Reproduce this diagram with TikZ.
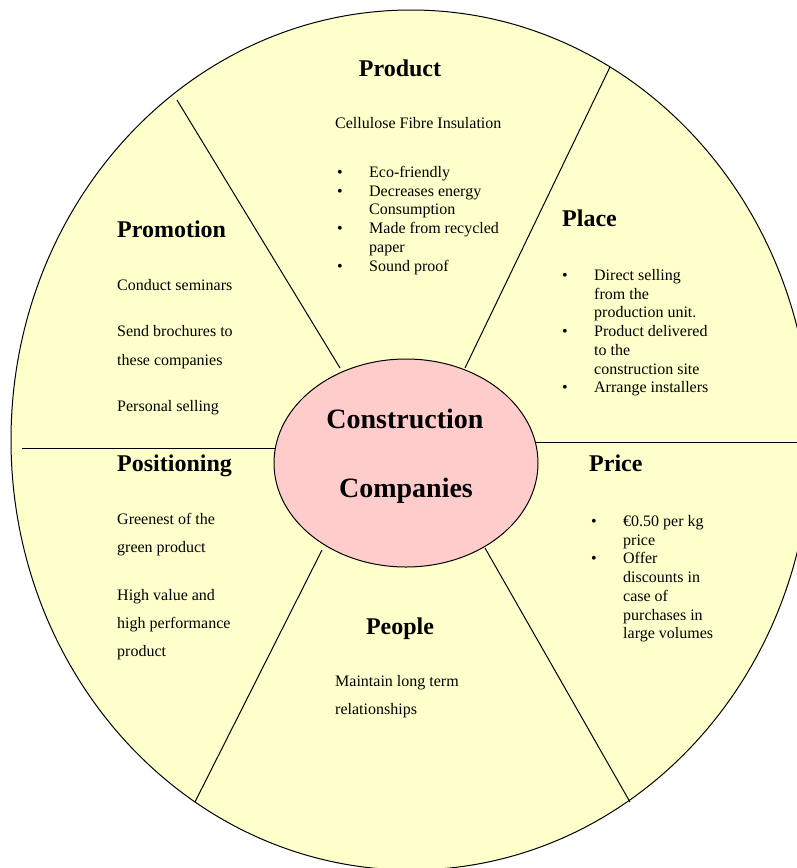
\documentclass[tikz,border=0pt]{standalone}
\usepackage{fontspec}
\setmainfont{Liberation Serif}
\usetikzlibrary{shapes.geometric}
\definecolor{wheelyellow}{HTML}{FFFFCC}
\definecolor{hubpink}{HTML}{FFCCCC}
\newcommand\bitem[1]{\hangindent=32pt\hangafter=1\noindent\makebox[32pt][l]{\textbullet}#1\par}
\newcommand\blk[2]{\parbox[t]{#1}{\raggedright #2}}
\tikzset{
  divider/.style={draw=black, line width=1pt},
  headtxt/.style={anchor=base west, inner sep=0pt, font=\fontsize{24}{28}\selectfont\bfseries},
  bodytxt/.style={anchor=base west, inner sep=0pt, font=\fontsize{16}{18.7}\selectfont},
  widetxt/.style={anchor=base west, inner sep=0pt, font=\fontsize{16}{28.3}\selectfont},
  hubtxt/.style={anchor=base, inner sep=0pt, font=\fontsize{28}{34}\selectfont\bfseries},
}
\begin{document}
\begin{tikzpicture}[x=1pt,y=-1pt]
\useasboundingbox (0,0) rectangle (797,868);
% outer wheel
\node (wheel) [ellipse, draw=black, line width=1pt, fill=wheelyellow, inner sep=0pt,
  minimum width=800pt, minimum height=860pt] at (411,440) {};
% divider end points
\coordinate (ulIn) at (340,368);  \coordinate (ulOut) at (177,100);
\coordinate (urIn) at (465,368);  \coordinate (urOut) at (610,67);
\coordinate (llIn) at (322,550);  \coordinate (llOut) at (195,802);
\coordinate (lrIn) at (485,548);  \coordinate (lrOut) at (630,802);
\coordinate (hlOut) at (22,448);  \coordinate (hlIn) at (290,448);
\coordinate (hrIn) at (520,442);  \coordinate (hrOut) at (800,442);
\draw[divider] (ulIn) -- (ulOut);
\draw[divider] (urIn) -- (urOut);
\draw[divider] (llIn) -- (llOut);
\draw[divider] (lrIn) -- (lrOut);
\draw[divider] (hlOut) -- (hlIn);
\draw[divider] (hrIn) -- (hrOut);
% hub
\node (hub) [ellipse, draw=black, line width=1pt, fill=hubpink, inner sep=0pt,
  minimum width=264pt, minimum height=208pt] at (406,463) {};
\node (hub1) [hubtxt] at (405,428) {Construction};
\node (hub2) [hubtxt] at (406,497) {Companies};
% Product
\node (prodH) [headtxt, anchor=base] at (400,76) {Product};
\node (prodA) [bodytxt] at (335,128) {Cellulose Fibre Insulation};
\node (prodB) [bodytxt] at (337,177.5) {\blk{220pt}{%
  \bitem{Eco-friendly}
  \bitem{Decreases energy\newline Consumption}
  \bitem{Made from recycled\newline paper}
  \bitem{Sound proof}}};
% Place
\node (placeH) [headtxt] at (562,226) {Place};
\node (placeB) [bodytxt] at (562,280.5) {\blk{220pt}{%
  \bitem{Direct selling\newline from the\newline production unit.}
  \bitem{Product delivered\newline to the\newline construction site}
  \bitem{Arrange installers}}};
% Promotion
\node (promH) [headtxt] at (117,237) {Promotion};
\node (promB) [widetxt] at (117,290.5) {\blk{200pt}{%
  Conduct seminars\\[18pt]Send brochures to\\these companies\\[18pt]Personal selling}};
% Positioning
\node (posH) [headtxt] at (117,471) {Positioning};
\node (posB) [widetxt] at (117,524.5) {\blk{200pt}{%
  Greenest of the\\green product\\[19pt]High value and\\high performance\\product}};
% Price
\node (priceH) [headtxt] at (589,471) {Price};
\node (priceB) [bodytxt] at (591,526.5) {\blk{200pt}{%
  \bitem{€0.50 per kg\newline price}
  \bitem{Offer\newline discounts in\newline case of\newline purchases in\newline large volumes}}};
% People
\node (peopH) [headtxt, anchor=base] at (400,634) {People};
\node (peopB) [widetxt] at (335,686.5) {\blk{200pt}{Maintain long term\\relationships}};
\end{tikzpicture}
\end{document}
